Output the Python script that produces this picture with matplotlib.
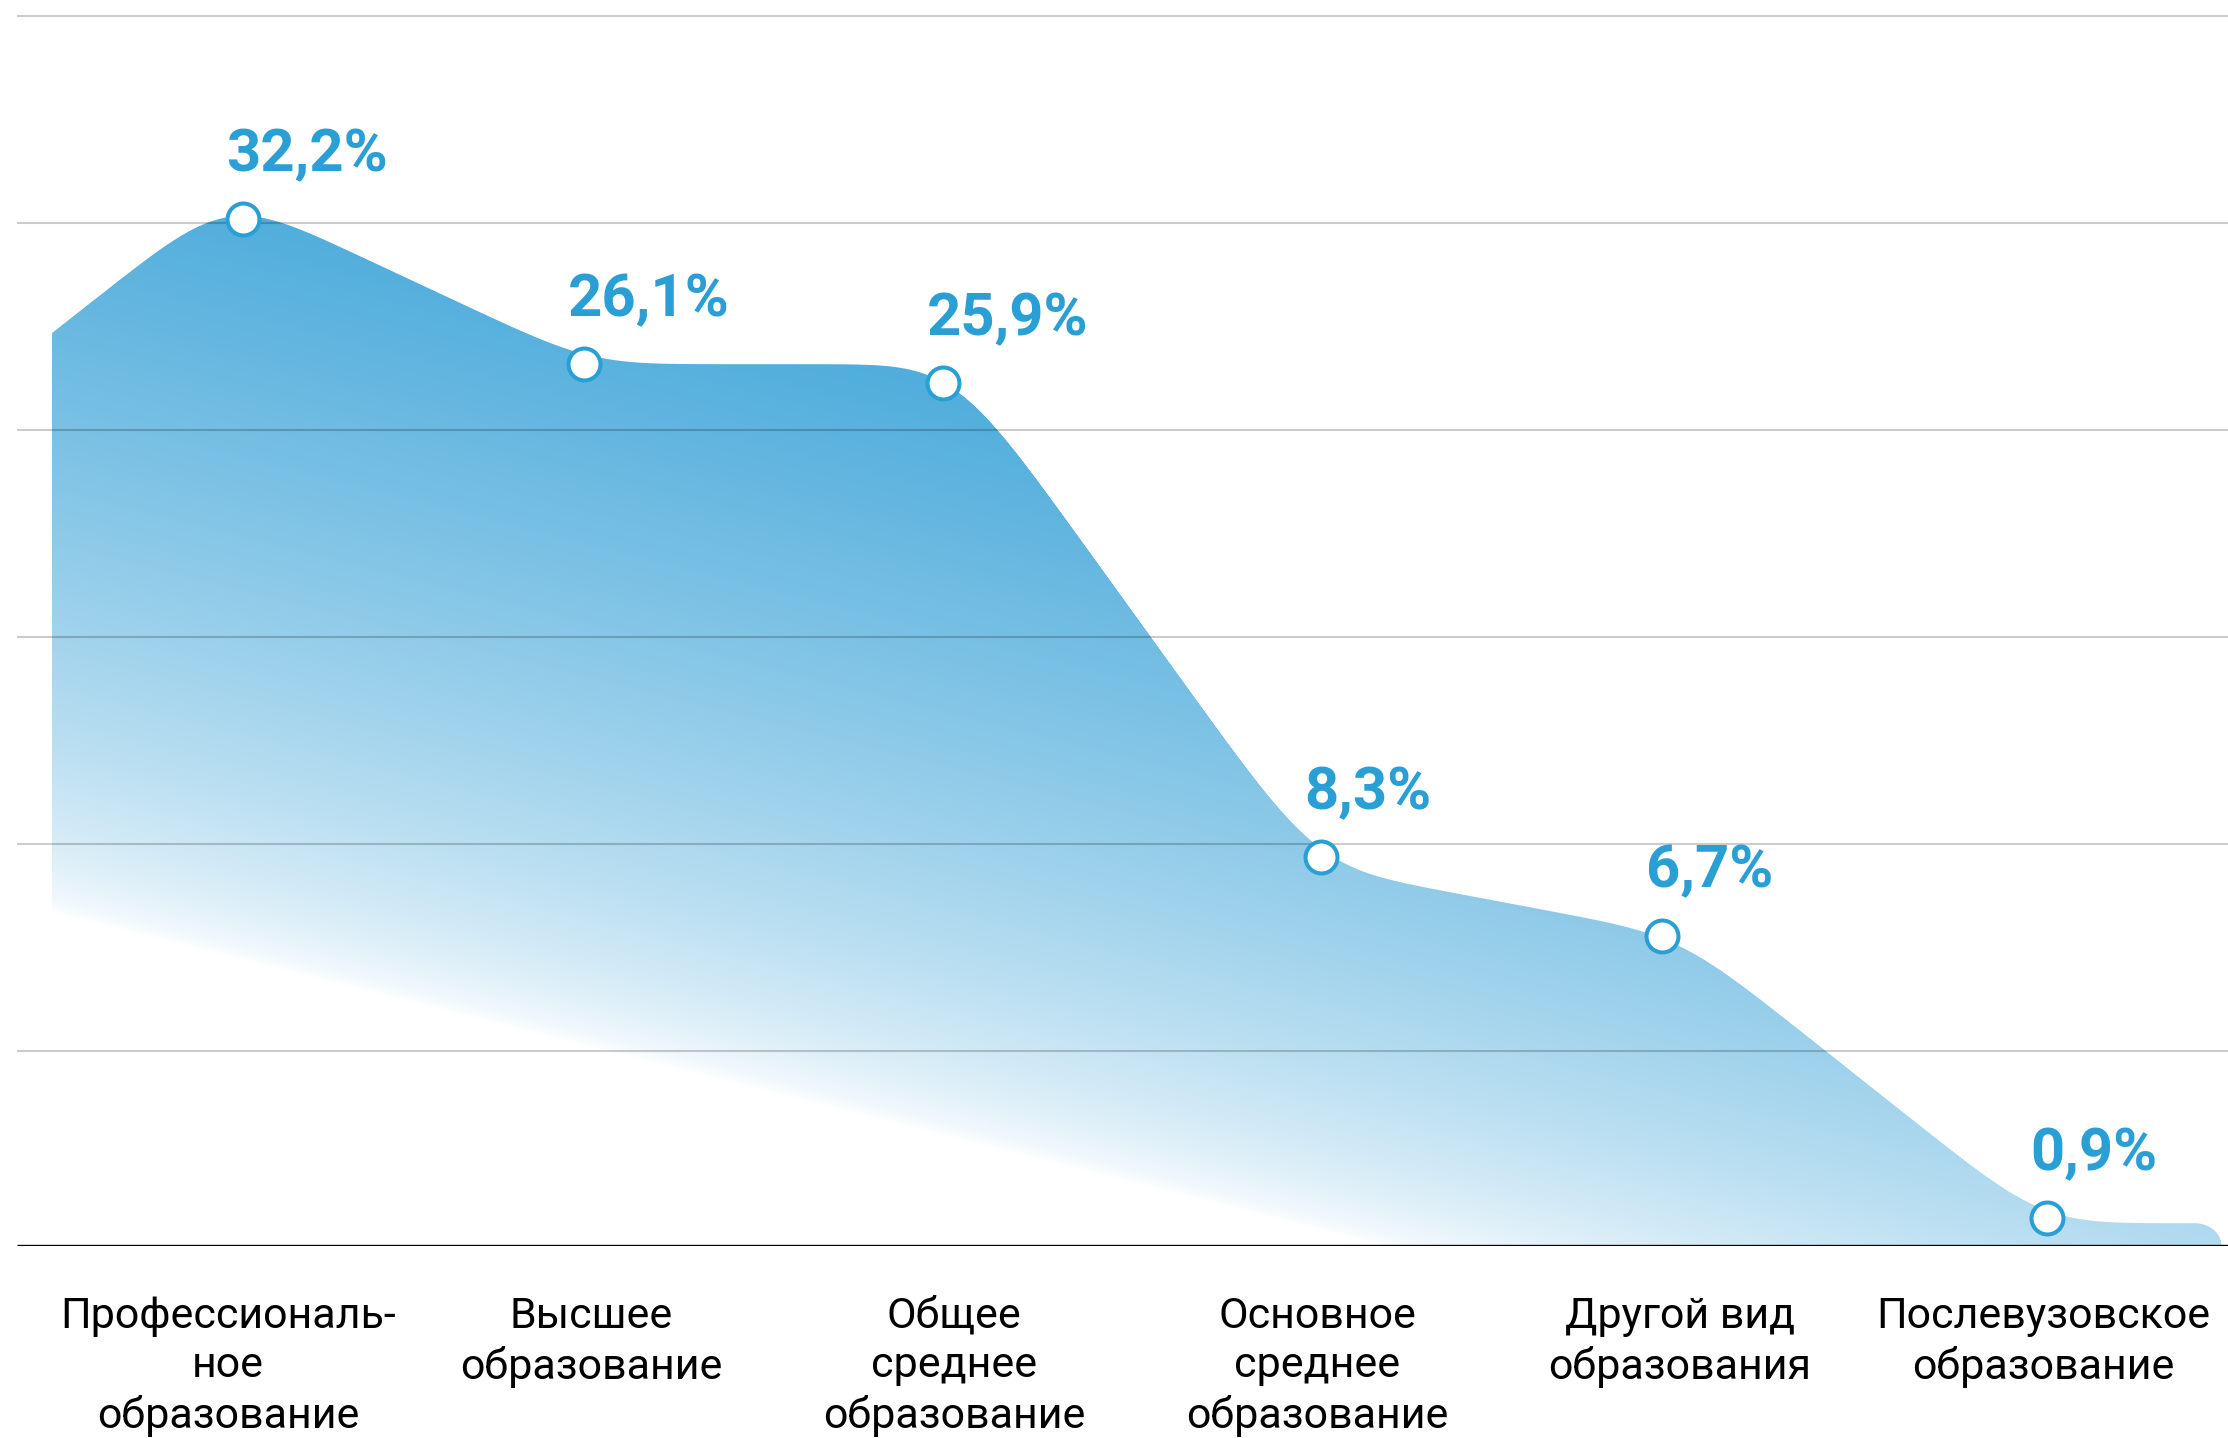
import numpy as np
import matplotlib
matplotlib.use("Agg")
import matplotlib.pyplot as plt
from matplotlib.colors import to_rgb

# ---------------- data ----------------
categories = [
    "Профессиональ-\nное\nобразование",
    "Высшее\nобразование",
    "Общее\nсреднее\nобразование",
    "Основное\nсреднее\nобразование",
    "Другой вид\nобразования",
    "Послевузовское\nобразование",
]
values = [32.2, 26.1, 25.9, 8.3, 6.7, 0.9]
# marker placement (category units / grid steps)
marker_x = [0.04, 0.98, 1.97, 3.01, 3.95, 5.01]
marker_levels = [4.96, 4.26, 4.17, 1.88, 1.50, 0.135]
# corner heights of the decorative curve (in grid steps)
curve_levels = [5.08, 4.26, 4.26, 1.83, 1.50, 0.11]
# the decorative area starts left of the first category and ends right of the last
area_left = (-0.485, 4.41)
area_right_x = 5.492
grid_levels = [0.94, 1.94, 2.94, 3.94, 4.94, 5.94]

# ---------------- style ----------------
W, H, DPI = 2228, 1438, 100
BLUE = "#2a9fd6"
FILL = "#45a8da"
AX_L, AX_R, AX_T, AX_B = 17, 2228, 0, 1246   # axes box in pixels
X0_PX, STEP_PX = 228, 363                     # category 0 position, spacing
LEVEL_PX = 207

fig = plt.figure(figsize=(W / DPI, H / DPI), dpi=DPI)
ax = fig.add_axes([AX_L / W, 1 - AX_B / H, (AX_R - AX_L) / W, (AX_B - AX_T) / H])
xlim = ((AX_L - X0_PX) / STEP_PX, (AX_R - X0_PX) / STEP_PX)
ylim = (0, (AX_B - AX_T) / LEVEL_PX)

# ---------------- curve: polyline with rounded corners ----------------
n = len(values)
cat_x = np.arange(n, dtype=float)
dx = 0.001
xg = np.arange(-2.0, 7.5, dx)
sig = 0.125
kk = np.arange(-4 * sig, 4 * sig + dx / 2, dx)
kern = np.exp(-0.5 * (kk / sig) ** 2)
kern /= kern.sum()

kx = [area_left[0]] + list(cat_x)
ky = [area_left[1]] + list(curve_levels)
slope_left = (ky[1] - ky[0]) / (kx[1] - kx[0])
kx_ext = [xg[0]] + kx + [xg[-1]]
ky_ext = [ky[0] - slope_left * (kx[0] - xg[0])] + ky + [ky[-1]]
poly = np.interp(xg, kx_ext, ky_ext)
smooth = np.convolve(poly, kern, mode="same")

rx = 27 / STEP_PX
cx = area_right_x - rx
h_end = np.interp(cx, xg, smooth)


def top_of_area(x):
    x = np.asarray(x, dtype=float)
    t = np.interp(x, xg, smooth)
    out = np.where((x >= area_left[0]) & (x <= cx), t, 0.0)
    e = (x > cx) & (x <= area_right_x)
    out = np.where(e, h_end * np.sqrt(np.clip(1 - ((x - cx) / rx) ** 2, 0, 1)), out)
    return out


# ---------------- gradient image ----------------
aw, ah = AX_R - AX_L, AX_B - AX_T
cols = np.arange(aw) + 0.5
rows = np.arange(ah) + 0.5
x_data = xlim[0] + cols / aw * (xlim[1] - xlim[0])
top_lvl = top_of_area(x_data)
top_px = (ylim[1] - top_lvl) / (ylim[1] - ylim[0]) * ah
R = np.arange(ah)[:, None]
cover = np.clip(R + 1 - top_px[None, :], 0, 1)
left_px = (area_left[0] - xlim[0]) / (xlim[1] - xlim[0]) * aw
cover *= np.clip(np.arange(aw)[None, :] + 1 - left_px, 0, 1)
Xp = (AX_L + cols)[None, :]
Yp = (AX_T + rows)[:, None]
d = (Xp - 52) * 0.243 + (912 - Yp) * 0.970
grad = np.clip(d / 800.0, 0, 1) ** 0.63
alpha = cover * grad
rgba = np.zeros((ah, aw, 4))
rgba[..., :3] = to_rgb(FILL)
rgba[..., 3] = alpha
ax.imshow(rgba, extent=(xlim[0], xlim[1], ylim[0], ylim[1]), origin="upper",
          aspect="auto", interpolation="nearest", zorder=1)

# ---------------- grid & baseline ----------------
for g in grid_levels:
    ax.axhline(g, color="black", alpha=0.2, lw=1.5, zorder=3)
ax.axhline(0, color="black", lw=2.4, zorder=6, solid_capstyle="butt")

# ---------------- markers and value labels ----------------
ax.plot(marker_x, marker_levels, "o", ms=23, mfc="white", mec=BLUE, mew=2.9,
        zorder=7, clip_on=False)
for xi, yi, v in zip(marker_x, marker_levels, values):
    txt = f"{v:.1f}".replace(".", ",") + "%"
    ax.annotate(txt, xy=(xi, yi), xytext=(-16 * 0.72, 48 * 0.72), textcoords="offset points",
                ha="left", va="baseline", fontsize=43, fontweight="bold",
                color=BLUE, family="Roboto", zorder=8)

# ---------------- category labels ----------------
top_y = -(1296 - AX_B) / ah
for xi, lab in zip(cat_x, categories):
    ax.text(xi, top_y, lab, transform=ax.get_xaxis_transform(), ha="center",
            va="top", multialignment="center", fontsize=31, linespacing=1.26,
            family="Roboto", color="black")

ax.set_xlim(*xlim)
ax.set_ylim(*ylim)
ax.axis("off")
fig.savefig("out.png", dpi=DPI, facecolor="white")
